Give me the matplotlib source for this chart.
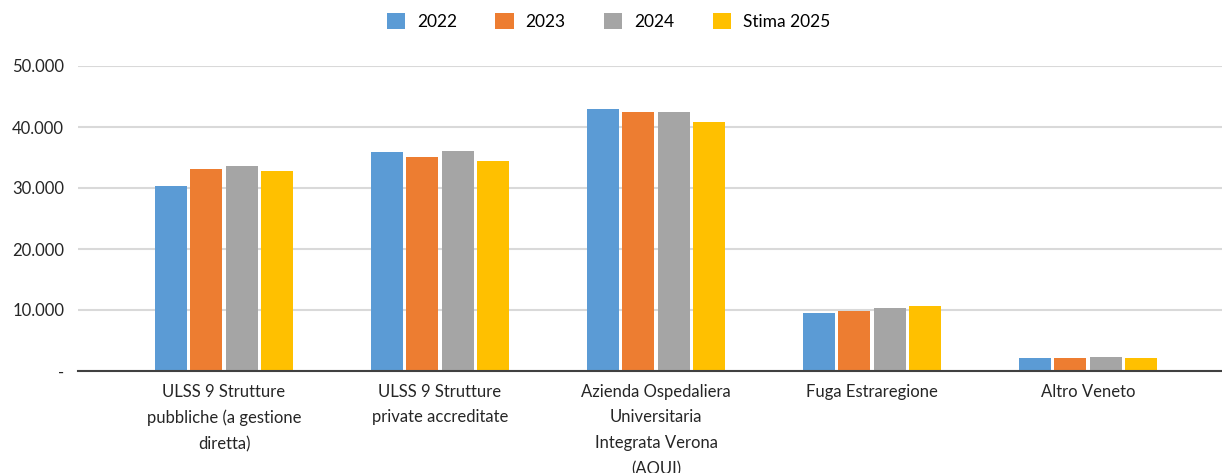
import numpy as np
import matplotlib
matplotlib.use("Agg")
import matplotlib.pyplot as plt
from matplotlib.ticker import FuncFormatter

plt.rcParams['font.family'] = ['Lato', 'DejaVu Sans']

categories = [
    "ULSS 9 Strutture\npubbliche (a gestione\ndiretta)",
    "ULSS 9 Strutture\nprivate accreditate",
    "Azienda Ospedaliera\nUniversitaria\nIntegrata Verona\n(AOUI)",
    "Fuga Estraregione",
    "Altro Veneto",
]
series_names = ["2022", "2023", "2024", "Stima 2025"]
v2022 = [30300, 35900, 43000, 9550, 2100]
v2023 = [33100, 35000, 42500, 9800, 2100]
v2024 = [33600, 36100, 42500, 10400, 2300]
v2025 = [32800, 34400, 40800, 10700, 2100]
colors = ["#5B9BD5", "#ED7D31", "#A5A5A5", "#FFC000"]

fig = plt.figure(figsize=(12.22, 4.73), dpi=100)
ax = fig.add_axes([78 / 1222, 102 / 473, (1222 - 78) / 1222, 305 / 473])

x = np.arange(len(categories))
width = 0.148
step = 0.163
for i, (vals, name, c) in enumerate(zip([v2022, v2023, v2024, v2025], series_names, colors)):
    ax.bar(x + (i - 1.5) * step, vals, width, color=c, label=name, zorder=3)

ax.set_xlim(-0.676, 4.62)
ax.set_ylim(0, 50000)
ax.set_yticks(np.arange(0, 50001, 10000))
ax.yaxis.set_major_formatter(FuncFormatter(
    lambda v, p: "-" if v == 0 else f"{int(v):,}".replace(",", ".")))
ax.grid(axis='y', color='#d9d9d9', linewidth=1.5, zorder=0)
ax.set_axisbelow(True)
for s in ['top', 'right', 'left']:
    ax.spines[s].set_visible(False)
ax.spines['bottom'].set_color('#404040')
ax.spines['bottom'].set_linewidth(1.5)
ax.spines['bottom'].set_zorder(4)
ax.tick_params(axis='both', length=0, labelsize=12, colors='#262626')
ax.tick_params(axis='y', pad=10)
ax.tick_params(axis='x', pad=9)
ax.set_xticks(x)
ax.set_xticklabels(categories, linespacing=1.75)

fig.legend(loc='upper center', bbox_to_anchor=(0.498, 1.005), ncol=4, frameon=False,
           fontsize=12.5, handlelength=1.05, handleheight=1.05, handletextpad=0.7,
           columnspacing=2.2)

fig.savefig("out.png", dpi=100)
